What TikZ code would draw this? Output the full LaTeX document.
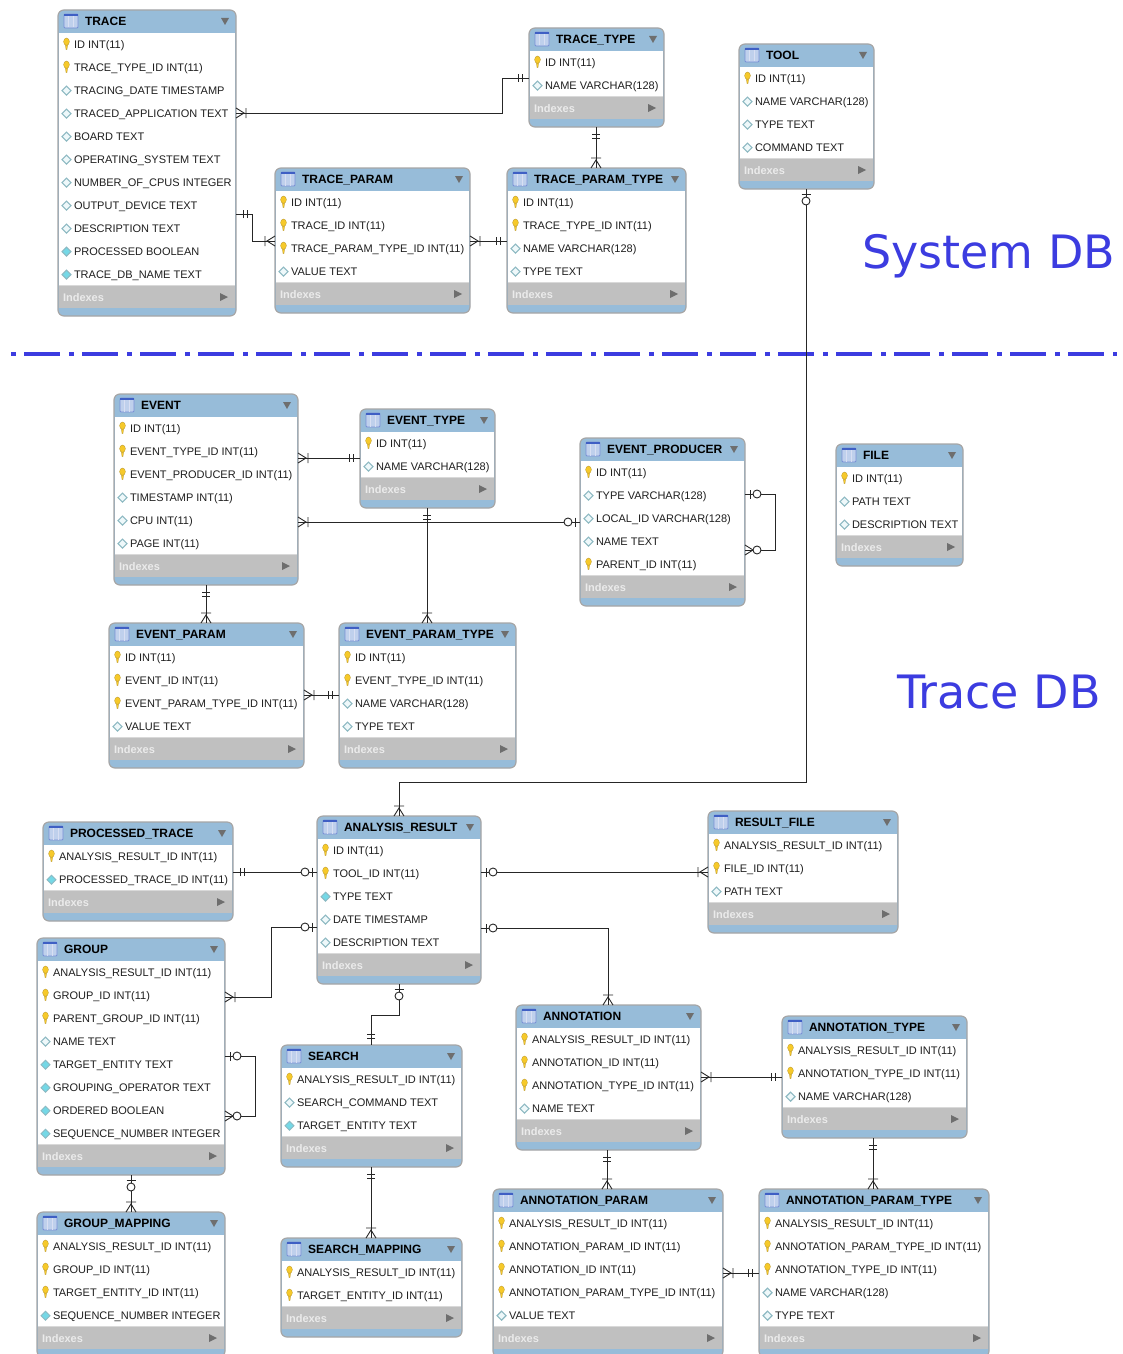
\documentclass[tikz,border=0pt]{standalone}
\usepackage{fontspec}
\setmainfont{Liberation Sans}
\newfontfamily\biglabel{DejaVu Sans}
\usetikzlibrary{decorations.markings,calc}
\definecolor{hdrblue}{HTML}{97BCD9}
\definecolor{idxgray}{HTML}{C0C0C0}
\definecolor{framegray}{HTML}{A6A6A6}
\definecolor{tri}{HTML}{6E6E6E}
\definecolor{dbblue}{HTML}{3C3CE0}
\definecolor{keyy}{HTML}{F6C92A}
\definecolor{keyo}{HTML}{B8962E}
\definecolor{dpale}{HTML}{EEF8FA}
\definecolor{dcyan}{HTML}{74D8E6}
\definecolor{dedge}{HTML}{8DB9C2}
\definecolor{iconb}{HTML}{3F5FC4}
\definecolor{iconf}{HTML}{BFD0EC}
\tikzset{
  enttable/.style={draw=framegray,fill=hdrblue,line width=1.2pt,rounded corners=6pt,inner sep=0pt,outer sep=0pt},
  coltext/.style={anchor=base west,inner sep=0pt,outer sep=0pt,font=\fontsize{11}{13}\selectfont,text=black!88},
  titletext/.style={anchor=base west,inner sep=0pt,outer sep=0pt,font=\fontsize{12}{14}\selectfont\bfseries,text=black},
  idxtext/.style={anchor=base west,inner sep=0pt,outer sep=0pt,font=\fontsize{11}{13}\selectfont\bfseries,text=white!92!black},
  dblabel/.style={anchor=base west,inner sep=0pt,outer sep=0pt,font=\biglabel\fontsize{46}{50}\selectfont,text=dbblue},
  mk/.style={draw=black!85,line width=0.9pt},
  link/.style={draw=black!85,line width=1.0pt},
  rel/.style 2 args={link,postaction={decorate,decoration={markings,
    mark=at position 0 with {\begin{scope}[rotate=180]\csname mk#1\endcsname\end{scope}},
    mark=at position 1 with {\csname mk#2\endcsname}}}}
}
\newcommand\mkone{\draw[mk] (-7,-4)--(-7,4) (-11,-4)--(-11,4);}
\newcommand\mkmany{\draw[mk] (0,-5)--(-8,0)--(0,5) (-10,-5)--(-10,5);}
\newcommand\mkoptone{\draw[mk] (-5,-4.5)--(-5,4.5);\draw[mk,fill=white] (-12,0) circle (4);}
\newcommand\mkoptmany{\draw[mk] (0,-5)--(-8,0)--(0,5);\draw[mk,fill=white] (-12,0) circle (4);}
\newcommand\iconk[2]{\fill[keyy,draw=keyo,line width=0.3pt] (#1-1.2,#2) -- (#1+1.2,#2) -- (#1+0.4,#2+5) -- (#1-0.4,#2+5) -- cycle;
  \fill[keyy,draw=keyo,line width=0.3pt] (#1,#2-3) ellipse (2.9 and 3.7);}
\newcommand\icond[2]{\draw[dedge,fill=dpale,line width=1.1pt] (#1-4.5,#2) -- (#1,#2-4.5) -- (#1+4.5,#2) -- (#1,#2+4.5) -- cycle;}
\newcommand\iconc[2]{\draw[dedge,fill=dcyan,line width=1pt] (#1-4.5,#2) -- (#1,#2-4.5) -- (#1+4.5,#2) -- (#1,#2+4.5) -- cycle;}
% \ent{name}{left}{right}{title y}{title}{rows}
\newcommand\ent[6]{%
  \foreach \q [count=\ci] in {#6} {\xdef\entN{\ci}}
  \pgfmathsetmacro\nn{\entN}
  \pgfmathsetmacro\rx{#2+8.5}
  \node[enttable,minimum width={(#3-#2)*1pt},minimum height={(42+23*\nn+11)*1pt}] (#1)
     at ({(#2+#3)/2},{#4-11+(42+23*\nn+11)/2}) {};
  \fill[white] (#2+0.6,#4+12) rectangle (#3-0.6,{#4+12+23*\nn-1});
  \fill[idxgray] (#2+0.6,{#4+12+23*\nn-1}) rectangle (#3-0.6,{#4+12+23*\nn+22});
  \draw[white!85!black,line width=0.8pt] (#2+0.6,{#4+12+23*\nn-1}) -- (#3-0.6,{#4+12+23*\nn-1});
  % table icon
  \draw[iconb!70!white,fill=iconf,line width=0.8pt,rounded corners=1pt] (#2+6,#4-7) rectangle (#2+20,#4+7);
  \fill[iconb] (#2+6,#4-7) rectangle (#2+20,#4-5);
  \draw[white!80!iconb,line width=0.5pt] (#2+10.5,#4-5)--(#2+10.5,#4+6.5) (#2+15.5,#4-5)--(#2+15.5,#4+6.5);
  \node[titletext] (#1-title) at (#2+27,#4+4.3) {#5};
  \fill[tri] (#3-15,#4-3) -- (#3-7,#4-3) -- (#3-11,#4+4) -- cycle;
  \foreach \kk/\ss [count=\ii] in {#6} {
    \pgfmathsetmacro\ry{#4+24+23*(\ii-1)-0.3}
    \csname icon\kk\endcsname{\rx}{\ry}
    \node[coltext] (#1-r\ii) at (#2+16,\ry+4) {\ss};
  }
  \node[idxtext] (#1-idx) at (#2+5,{#4+23+23*\nn+4}) {Indexes};
  \fill[tri] (#3-16,{#4+23+23*\nn-4}) -- (#3-8,{#4+23+23*\nn}) -- (#3-16,{#4+23+23*\nn+4}) -- cycle;
}
\begin{document}
\begin{tikzpicture}[x=1pt,y=-1pt]
\clip (0,0) rectangle (1123,1354);
\fill[white] (0,0) rectangle (1123,1354);

\ent{trace}{58}{236}{21}{TRACE}{k/ID INT(11),k/TRACE\_TYPE\_ID INT(11),d/TRACING\_DATE TIMESTAMP,d/TRACED\_APPLICATION TEXT,d/BOARD TEXT,d/OPERATING\_SYSTEM TEXT,d/NUMBER\_OF\_CPUS INTEGER,d/OUTPUT\_DEVICE TEXT,d/DESCRIPTION TEXT,c/PROCESSED BOOLEAN,c/TRACE\_DB\_NAME TEXT}
\ent{tracetype}{529}{664}{39}{TRACE\_TYPE}{k/ID INT(11),d/NAME VARCHAR(128)}
\ent{tool}{739}{874}{55}{TOOL}{k/ID INT(11),d/NAME VARCHAR(128),d/TYPE TEXT,d/COMMAND TEXT}
\ent{traceparam}{275}{470}{179}{TRACE\_PARAM}{k/ID INT(11),k/TRACE\_ID INT(11),k/TRACE\_PARAM\_TYPE\_ID INT(11),d/VALUE TEXT}
\ent{traceparamtype}{507}{686}{179}{TRACE\_PARAM\_TYPE}{k/ID INT(11),k/TRACE\_TYPE\_ID INT(11),d/NAME VARCHAR(128),d/TYPE TEXT}
\ent{event}{114}{298}{405}{EVENT}{k/ID INT(11),k/EVENT\_TYPE\_ID INT(11),k/EVENT\_PRODUCER\_ID INT(11),d/TIMESTAMP INT(11),d/CPU INT(11),d/PAGE INT(11)}
\ent{eventtype}{360}{495}{420}{EVENT\_TYPE}{k/ID INT(11),d/NAME VARCHAR(128)}
\ent{eventproducer}{580}{745}{449}{EVENT\_PRODUCER}{k/ID INT(11),d/TYPE VARCHAR(128),d/LOCAL\_ID VARCHAR(128),d/NAME TEXT,k/PARENT\_ID INT(11)}
\ent{file}{836}{963}{455}{FILE}{k/ID INT(11),d/PATH TEXT,d/DESCRIPTION TEXT}
\ent{eventparam}{109}{304}{634}{EVENT\_PARAM}{k/ID INT(11),k/EVENT\_ID INT(11),k/EVENT\_PARAM\_TYPE\_ID INT(11),d/VALUE TEXT}
\ent{eventparamtype}{339}{516}{634}{EVENT\_PARAM\_TYPE}{k/ID INT(11),k/EVENT\_TYPE\_ID INT(11),d/NAME VARCHAR(128),d/TYPE TEXT}
\ent{processed}{43}{233}{833}{PROCESSED\_TRACE}{k/ANALYSIS\_RESULT\_ID INT(11),c/PROCESSED\_TRACE\_ID INT(11)}
\ent{analysis}{317}{481}{827}{ANALYSIS\_RESULT}{k/ID INT(11),k/TOOL\_ID INT(11),c/TYPE TEXT,d/DATE TIMESTAMP,d/DESCRIPTION TEXT}
\ent{resultfile}{708}{898}{822}{RESULT\_FILE}{k/ANALYSIS\_RESULT\_ID INT(11),k/FILE\_ID INT(11),d/PATH TEXT}
\ent{group}{37}{225}{949}{GROUP}{k/ANALYSIS\_RESULT\_ID INT(11),k/GROUP\_ID INT(11),k/PARENT\_GROUP\_ID INT(11),d/NAME TEXT,c/TARGET\_ENTITY TEXT,c/GROUPING\_OPERATOR TEXT,c/ORDERED BOOLEAN,c/SEQUENCE\_NUMBER INTEGER}
\ent{search}{281}{462}{1056}{SEARCH}{k/ANALYSIS\_RESULT\_ID INT(11),d/SEARCH\_COMMAND TEXT,c/TARGET\_ENTITY TEXT}
\ent{annotation}{516}{701}{1016}{ANNOTATION}{k/ANALYSIS\_RESULT\_ID INT(11),k/ANNOTATION\_ID INT(11),k/ANNOTATION\_TYPE\_ID INT(11),d/NAME TEXT}
\ent{annotationtype}{782}{967}{1027}{ANNOTATION\_TYPE}{k/ANALYSIS\_RESULT\_ID INT(11),k/ANNOTATION\_TYPE\_ID INT(11),d/NAME VARCHAR(128)}
\ent{groupmapping}{37}{225}{1223}{GROUP\_MAPPING}{k/ANALYSIS\_RESULT\_ID INT(11),k/GROUP\_ID INT(11),k/TARGET\_ENTITY\_ID INT(11),c/SEQUENCE\_NUMBER INTEGER}
\ent{searchmapping}{281}{462}{1249}{SEARCH\_MAPPING}{k/ANALYSIS\_RESULT\_ID INT(11),k/TARGET\_ENTITY\_ID INT(11)}
\ent{annotationparam}{493}{723}{1200}{ANNOTATION\_PARAM}{k/ANALYSIS\_RESULT\_ID INT(11),k/ANNOTATION\_PARAM\_ID INT(11),k/ANNOTATION\_ID INT(11),k/ANNOTATION\_PARAM\_TYPE\_ID INT(11),d/VALUE TEXT}
\ent{annotationparamtype}{759}{989}{1200}{ANNOTATION\_PARAM\_TYPE}{k/ANALYSIS\_RESULT\_ID INT(11),k/ANNOTATION\_PARAM\_TYPE\_ID INT(11),k/ANNOTATION\_TYPE\_ID INT(11),d/NAME VARCHAR(128),d/TYPE TEXT}

% titles and divider
\node[dblabel] (systemdb) at (862,268) {System DB};
\node[dblabel] (tracedb) at (897,708) {Trace DB};
\coordinate (divl) at (11,354);
\coordinate (divr) at (1117,354);
\draw[dbblue,line width=4pt,dash pattern=on 5pt off 8pt on 36pt off 9pt] (divl) -- (divr);

% relations
\draw[rel={many}{one}] (trace.east |- 0,113) -- (502,113) -- (502,78) -- (tracetype.west |- 0,78);
\draw[rel={one}{many}] (tracetype.south -| 596,0) -- (traceparamtype.north -| 596,0);
\draw[rel={one}{many}] (trace.east |- 0,214) -- (252,214) -- (252,241) -- (traceparam.west |- 0,241);
\draw[rel={many}{one}] (traceparam.east |- 0,241) -- (traceparamtype.west |- 0,241);
\draw[rel={many}{one}] (event.east |- 0,458) -- (eventtype.west |- 0,458);
\draw[rel={many}{optone}] (event.east |- 0,522) -- (eventproducer.west |- 0,522);
\draw[rel={one}{many}] (eventtype.south -| 427,0) -- (eventparamtype.north -| 427,0);
\draw[rel={one}{many}] (event.south -| 206,0) -- (eventparam.north -| 206,0);
\draw[rel={many}{one}] (eventparam.east |- 0,695) -- (eventparamtype.west |- 0,695);
\draw[rel={optone}{optmany}] (eventproducer.east |- 0,494) -- (775,494) -- (775,550) -- (eventproducer.east |- 0,550);
\draw[rel={optone}{many}] (tool.south -| 806,0) -- (806,782) -- (399,782) -- (analysis.north -| 399,0);
\draw[rel={one}{optone}] (processed.east |- 0,872) -- (analysis.west |- 0,872);
\draw[rel={optone}{many}] (analysis.east |- 0,872) -- (resultfile.west |- 0,872);
\draw[rel={optone}{many}] (analysis.west |- 0,927) -- (271,927) -- (271,997) -- (group.east |- 0,997);
\draw[rel={optone}{many}] (analysis.east |- 0,928) -- (608,928) -- (annotation.north -| 608,0);
\draw[rel={optone}{one}] (analysis.south -| 399,0) -- (399,1015) -- (371,1015) -- (search.north -| 371,0);
\draw[rel={optone}{optmany}] (group.east |- 0,1056) -- (255,1056) -- (255,1116) -- (group.east |- 0,1116);
\draw[rel={optone}{many}] (group.south -| 131,0) -- (groupmapping.north -| 131,0);
\draw[rel={one}{many}] (search.south -| 371,0) -- (searchmapping.north -| 371,0);
\draw[rel={many}{one}] (annotation.east |- 0,1077) -- (annotationtype.west |- 0,1077);
\draw[rel={one}{many}] (annotation.south -| 607,0) -- (annotationparam.north -| 607,0);
\draw[rel={one}{many}] (annotationtype.south -| 873,0) -- (annotationparamtype.north -| 873,0);
\draw[rel={many}{one}] (annotationparam.east |- 0,1273) -- (annotationparamtype.west |- 0,1273);
\end{tikzpicture}
\end{document}
